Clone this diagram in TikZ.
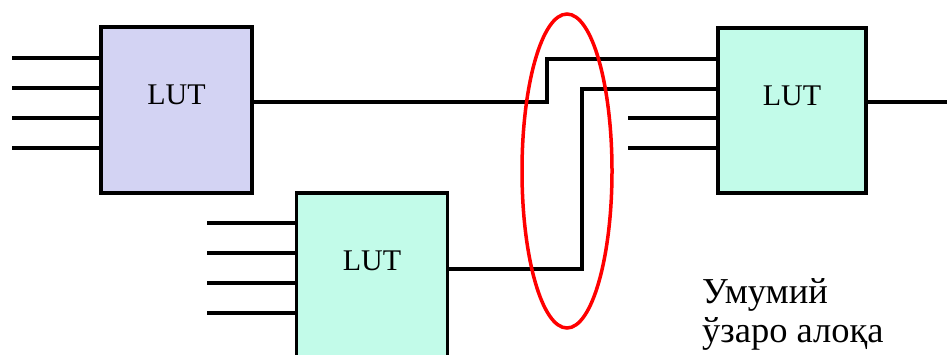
\documentclass[tikz,border=0pt]{standalone}
\usepackage{fontspec}
\setmainfont{Liberation Serif}
\usetikzlibrary{shapes.geometric}
\definecolor{lav}{RGB}{211,211,243}
\definecolor{mint}{RGB}{194,251,233}
\tikzset{
  lut/.style={draw=black, line width=3.5pt, minimum width=151pt, minimum height=166pt, inner sep=0pt, outer sep=0pt,
    label={[yshift=15pt, font=\fontsize{30}{36}\selectfont]center:LUT}},
  wire/.style={line width=3.5pt, black},
  loop/.style={draw=red, line width=3.5pt, ellipse, minimum width=90pt, minimum height=314pt, inner sep=0pt},
  captxt/.style={font=\fontsize{36.5}{40}\selectfont, anchor=base west, inner sep=0pt}
}
\begin{document}
\begin{tikzpicture}[x=1pt,y=-1pt]
\useasboundingbox (0,0) rectangle (947,354);
\clip (0,0) rectangle (947,354);
% boxes
\node[lut, fill=lav] (a) at (176.5,110) {};
\node[lut, fill=mint] (b) at (372,276) {};
\node[lut, fill=mint, minimum width=148pt, minimum height=165pt] (c) at (792,110.5) {};
% inputs of a
\foreach \y [count=\i] in {58,88,118,148} {
  \coordinate (ai\i) at (12,\y);
  \draw[wire] (ai\i) -- (a.west |- ai\i);
}
% inputs of b
\foreach \y [count=\i] in {223,253,283,313} {
  \coordinate (bi\i) at (207,\y);
  \draw[wire] (bi\i) -- (b.west |- bi\i);
}
% lower inputs of c
\foreach \y [count=\i] in {118,148} {
  \coordinate (ci\i) at (628,\y);
  \draw[wire] (ci\i) -- (c.west |- ci\i);
}
% routed wires
\coordinate (j1) at (547,102);
\coordinate (k1) at (547,59);
\coordinate (j2) at (582,269);
\coordinate (k2) at (582,89);
\draw[wire, line join=miter] (a.east |- j1) -- (j1) -- (k1) -- (c.west |- k1);
\draw[wire, line join=miter] (b.east |- j2) -- (j2) -- (k2) -- (c.west |- k2);
% output of c
\coordinate (co) at (947,102);
\draw[wire] (c.east |- co) -- (co);
% ellipse
\node[loop] (e) at (567,171) {};
% caption
\node[captxt] (t1) at (702,303) {Умумий};
\node[captxt] (t2) at (702,342) {ўзаро алоқа};
\end{tikzpicture}
\end{document}
